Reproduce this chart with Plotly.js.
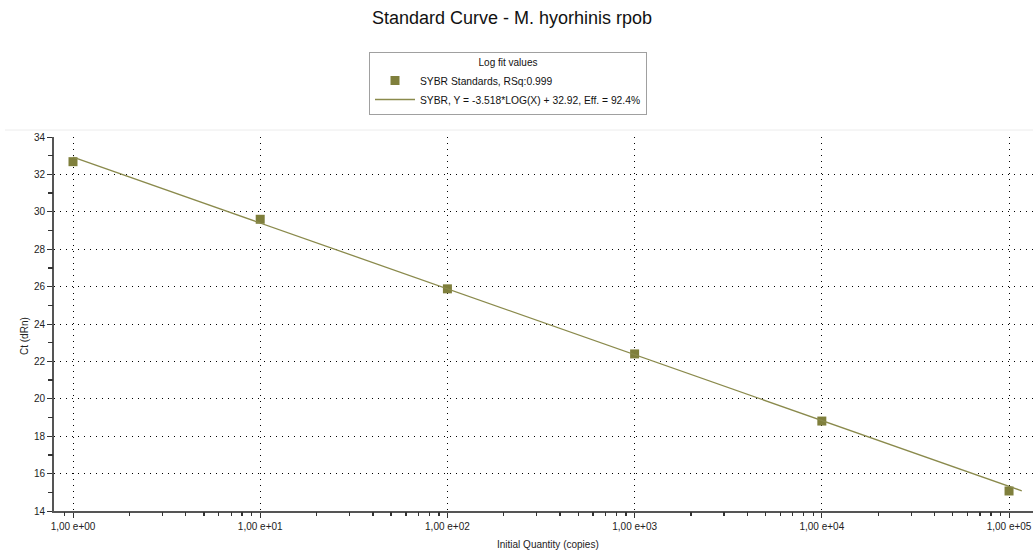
<!DOCTYPE html>
<html>
<head>
<meta charset="utf-8">
<script src="https://cdn.plot.ly/plotly-3.0.1.min.js"></script>
<style>html,body{margin:0;padding:0;background:#fff;}#chart{width:1033px;height:554px;}</style>
</head>
<body>
<div id="chart"></div>
<script>
// Data
const quantities = [1, 10, 100, 1000, 10000, 100000];
const ctValues = [32.68, 29.60, 25.88, 22.40, 18.81, 15.07];
const fitX = [1, 117000];
const fitY = [32.92, 15.08];
const xTickVals = [1, 10, 100, 1000, 10000, 100000];
const xTickText = ['1,00 e+00', '1,00 e+01', '1,00 e+02', '1,00 e+03', '1,00 e+04', '1,00 e+05'];
const yTickVals = [14, 16, 18, 20, 22, 24, 26, 28, 30, 32, 34];
const xMinorVals = [0.9, 2, 3, 4, 5, 6, 7, 8, 9, 20, 30, 40, 50, 60, 70, 80, 90,
  200, 300, 400, 500, 600, 700, 800, 900, 2000, 3000, 4000, 5000, 6000, 7000, 8000, 9000,
  20000, 30000, 40000, 50000, 60000, 70000, 80000, 90000];
const yMinorVals = [15, 17, 19, 21, 23, 25, 27, 29, 31, 33];

const font = 'Arial, "Liberation Sans", sans-serif';
const xRange = [-0.1015, 5.128];
const yRange = [14, 34];

const traces = [
  {
    x: quantities, y: ctValues, type: 'scatter', mode: 'markers',
    name: 'SYBR Standards, RSq:0.999',
    marker: {symbol: 'square', size: 9, color: '#7f7f3c'}
  },
  {
    x: fitX, y: fitY, type: 'scatter', mode: 'lines',
    name: 'SYBR, Y = -3.518*LOG(X) + 32.92, Eff. = 92.4%',
    line: {color: '#8a8a4c', width: 1.3}
  }
];

const layout = {
  width: 1033, height: 554,
  margin: {l: 54, r: 0, t: 137, b: 43, autoexpand: false},
  paper_bgcolor: '#fff', plot_bgcolor: '#fff',
  font: {family: font, size: 10, color: '#222'},
  title: {text: 'Standard Curve - M. hyorhinis rpob', font: {family: font, size: 18, color: '#111'},
          x: 512/1033, xref: 'container', y: 1 - 18/554, yref: 'container', yanchor: 'middle'},
  showlegend: true,
  legend: {
    xref: 'container', yref: 'container',
    x: 369/1033, y: 1 - 52/554, xanchor: 'left', yanchor: 'top',
    bgcolor: '#fff', bordercolor: '#a0a0a0', borderwidth: 1,
    font: {family: font, size: 10.3, color: '#111'},
    title: {text: 'Log fit values', side: 'top center', font: {family: font, size: 10, color: '#111'}},
    itemwidth: 40, tracegroupgap: 0
  },
  xaxis: {
    type: 'log', range: xRange, autorange: false,
    tickmode: 'array', tickvals: xTickVals, ticktext: xTickText,
    ticks: 'outside', ticklen: 5, tickcolor: '#333', tickwidth: 1,
    showline: true, linecolor: '#555', linewidth: 2,
    showgrid: true, gridcolor: '#000', gridwidth: 1, griddash: '1px,5px',
    zeroline: false,
    tickfont: {family: font, size: 10, color: '#222'},
    automargin: false
  },
  xaxis2: {
    type: 'log', range: xRange, autorange: false, overlaying: 'x', anchor: 'y', side: 'bottom',
    tickmode: 'array', tickvals: xMinorVals, showticklabels: false,
    ticks: 'outside', ticklen: 4, tickcolor: '#333', tickwidth: 1.3,
    showline: false, showgrid: false, zeroline: false, automargin: false
  },
  yaxis: {
    range: yRange, autorange: false,
    tickmode: 'array', tickvals: yTickVals,
    ticks: 'outside', ticklen: 5, tickcolor: '#333', tickwidth: 1,
    showline: true, linecolor: '#555', linewidth: 2,
    showgrid: true, gridcolor: '#000', gridwidth: 1, griddash: '1px,5px',
    zeroline: false,
    tickfont: {family: font, size: 10, color: '#222'},
    automargin: false
  },
  yaxis2: {
    range: yRange, autorange: false, overlaying: 'y', anchor: 'x', side: 'left',
    tickmode: 'array', tickvals: yMinorVals, showticklabels: false,
    ticks: 'outside', ticklen: 5, tickcolor: '#333', tickwidth: 1.3,
    showline: false, showgrid: false, zeroline: false, automargin: false
  },
  annotations: [
    {text: 'Initial Quantity (copies)', xref: 'paper', yref: 'paper', x: (548 - 54)/979, y: -(544 - 511)/374,
     xanchor: 'center', yanchor: 'middle', showarrow: false, font: {family: font, size: 10, color: '#222'}},
    {text: 'Ct (dRn)', xref: 'paper', yref: 'paper', x: -(54 - 24)/979, y: (511 - 336)/374, textangle: -90,
     xanchor: 'center', yanchor: 'middle', showarrow: false, font: {family: font, size: 10, color: '#222'}}
  ],
  shapes: [
    {type: 'line', xref: 'paper', yref: 'paper', x0: -49/979, x1: 1, y0: 1 + 7/374, y1: 1 + 7/374,
     line: {color: '#ececec', width: 1}}
  ]
};

// Invisible helper trace so the minor-tick axes are drawn
traces.push({x: [1], y: [20], xaxis: 'x2', yaxis: 'y2', type: 'scatter', mode: 'markers',
             marker: {opacity: 0}, showlegend: false, hoverinfo: 'skip'});

Plotly.newPlot('chart', traces, layout, {displayModeBar: false, staticPlot: true});
</script>
</body>
</html>
